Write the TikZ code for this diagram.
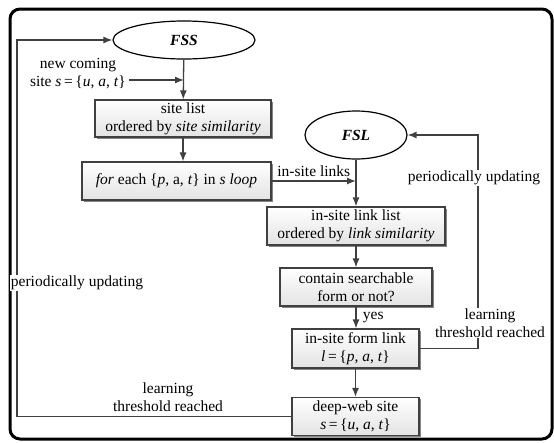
\documentclass[tikz,border=0pt]{standalone}
\usepackage{fontspec}
\setmainfont{Liberation Serif}
\usetikzlibrary{shapes.geometric,shadows,arrows.meta}

\begin{document}
\begin{tikzpicture}[x=1pt, y=-1pt,
    font=\fontsize{15.5}{18}\selectfont,
    stepbox/.style={rectangle, draw=black!75, line width=1.1pt, top color=white, bottom color=gray!22, align=center, inner sep=0pt, drop shadow={shadow xshift=1.5pt, shadow yshift=-1.5pt, fill=black!60, opacity=0.8}},
    pool/.style={ellipse, draw=black, line width=1.2pt, fill=white, inner sep=0pt, font=\fontsize{15.5}{18}\selectfont\bfseries\itshape},
    arrow/.style={-{Latex[length=9pt,width=7pt]}, draw=black!75, line width=1.3pt},
    line/.style={draw=black!75, line width=1.3pt},
    tag/.style={fill=white, inner sep=1pt, align=center}
]
\useasboundingbox (0,0) rectangle (554,442);

% Outer frame
\draw[line width=3pt, rounded corners=10pt] (10,9) rectangle (552,439);

% Pools
\node[pool, minimum width=142pt, minimum height=38pt] (fss) at (184,40) {FSS};
\node[pool, minimum width=102pt, minimum height=48pt] (fsl) at (356,135) {FSL};

% Steps (top to bottom)
\node[stepbox, minimum width=176pt, minimum height=37pt] (sitelist) at (183,118.5) {site list\\ordered by \textit{site similarity}};
\node[stepbox, minimum width=189pt, minimum height=38pt] (foreach) at (176.5,181) {\textit{for} each \{\textit{p}, a, \textit{t}\} in \textit{s loop}};
\node[stepbox, minimum width=178pt, minimum height=38pt] (linklist) at (356,226) {in-site link list\\ordered by \textit{link similarity}};
\node[stepbox, minimum width=152pt, minimum height=38pt] (contain) at (356,287) {contain searchable\\form or not?};
\node[stepbox, minimum width=127pt, minimum height=39pt] (formlink) at (355.5,348.5) {in-site form link\\\textit{l}\,=\,\{\textit{p}, \textit{a}, \textit{t}\}};
\node[stepbox, minimum width=127pt, minimum height=38pt] (deepweb) at (355.5,416.5) {deep-web site\\\textit{s}\,=\,\{\textit{u}, \textit{a}, \textit{t}\}};

% Incoming site
\node[align=center] (newsite) at (78,74) {new coming\\site \textit{s}\,=\,\{\textit{u}, \textit{a}, \textit{t}\}};
\coordinate (newin) at (184,80);

% Turning points of the loops
\coordinate (lturn) at (17,40);
\coordinate (rturn) at (478,135);

% Flow
\draw[arrow] (fss) -- (sitelist);
\draw[arrow] (newsite.east |- newin) -- (newin);
\draw[arrow] (sitelist) -- (sitelist |- foreach.north);
\draw[arrow] (foreach.east) -- (foreach.east -| fsl.south) node[midway, above] {in-site links};
\draw[arrow] (fsl) -- (linklist);
\draw[arrow] (linklist) -- (contain);
\draw[arrow] (contain) -- (contain |- formlink.north) node[midway, right, xshift=3pt] {yes};
\draw[arrow] (formlink) -- (deepweb);

% Feedback loops
\draw[arrow] (formlink.east) -| (rturn) -- (fsl.east);
\draw[arrow] (deepweb.west) -| (lturn) -- (fss.west);

% Loop labels
\node[tag] (rperiod) at (474,178) {periodically updating};
\node[tag] (rlearn) at (490,323) {learning\\threshold reached};
\node[tag] (lperiod) at (77,283) {periodically updating};
\node[align=center] (llearn) at (168,397) {learning\\threshold reached};

\end{tikzpicture}
\end{document}
